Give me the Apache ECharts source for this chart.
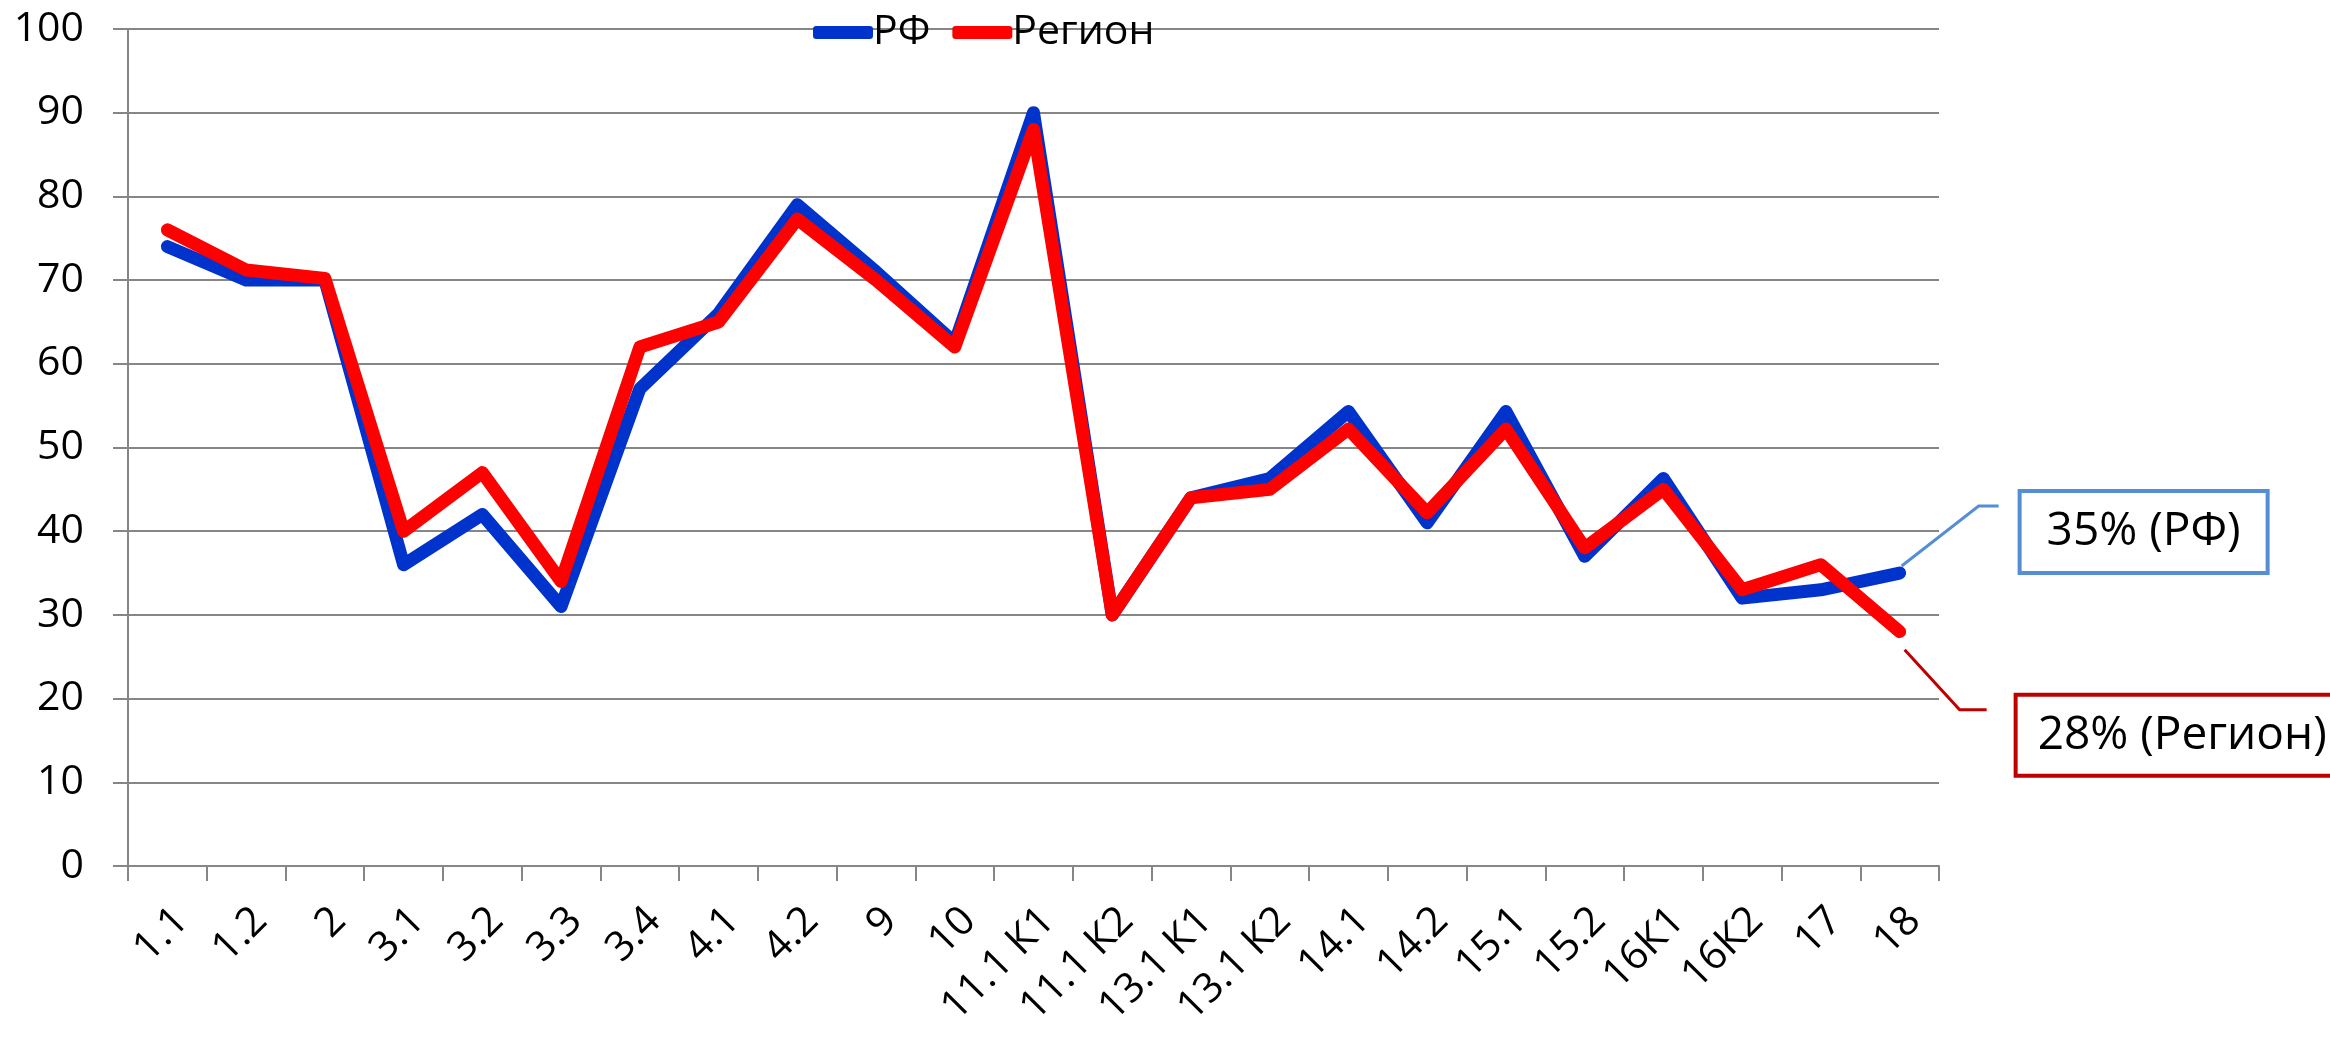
<!DOCTYPE html>
<html>
<head>
<meta charset="utf-8">
<script src="https://cdn.jsdelivr.net/npm/echarts@6/dist/echarts.min.js"></script>
<style>
  html, body { margin: 0; padding: 0; background: #fff; }
  #chart { width: 2330px; height: 1037px; }
</style>
</head>
<body>
<div id="chart"></div>
<script>
const categories = ['1.1', '1.2', '2', '3.1', '3.2', '3.3', '3.4', '4.1', '4.2', '9', '10',
  '11.1 К1', '11.1 К2', '13.1 К1', '13.1 К2', '14.1', '14.2', '15.1', '15.2', '16К1', '16К2', '17', '18'];
const rfValues = [74, 70, 70, 36, 42, 31, 57, 66, 79, 71, 62.5, 90, 30, 44, 46.3, 54.3, 41, 54.3, 37, 46.3, 32, 33, 35];
const regionValues = [76, 71.2, 70.2, 40, 47, 34, 62, 65, 77.3, 70, 62, 88, 30, 44, 45, 52.2, 42.2, 52.2, 38, 45, 33, 36, 28];

const FONT = 'Open Sans';
const GRID_GRAY = '#868686';

const chart = echarts.init(document.getElementById('chart'));

chart.setOption({
  animation: false,
  textStyle: { fontFamily: FONT },
  grid: { left: 128, right: 391, top: 29, bottom: 171, containLabel: false },
  legend: {
    top: 7,
    left: 808,
    icon: 'roundRect',
    itemWidth: 60,
    itemHeight: 13,
    itemGap: 22,
    textStyle: { fontSize: 41, color: '#000', fontFamily: FONT, padding: [0, 0, 0, -5] },
    data: ['РФ', 'Регион']
  },
  xAxis: {
    type: 'category',
    data: categories,
    boundaryGap: true,
    axisLine: { lineStyle: { color: GRID_GRAY, width: 2 } },
    axisTick: { show: true, length: 15, lineStyle: { color: GRID_GRAY, width: 2 } },
    axisLabel: {
      rotate: 45, interval: 0, fontSize: 41, color: '#000', margin: 34, fontFamily: FONT,
      align: 'right', verticalAlign: 'top'
    }
  },
  yAxis: {
    type: 'value',
    min: 0,
    max: 100,
    interval: 10,
    axisLine: { show: true, lineStyle: { color: GRID_GRAY, width: 2 } },
    axisTick: { show: true, length: 15, lineStyle: { color: GRID_GRAY, width: 2 } },
    axisLabel: { fontSize: 41, color: '#000', margin: 44, fontFamily: FONT },
    splitLine: { lineStyle: { color: GRID_GRAY, width: 2 } }
  },
  series: [
    {
      name: 'РФ',
      type: 'line',
      data: rfValues,
      symbol: 'none',
      color: '#0033CC',
      lineStyle: { color: '#0033CC', width: 13, cap: 'round', join: 'round' }
    },
    {
      name: 'Регион',
      type: 'line',
      data: regionValues,
      symbol: 'none',
      color: '#FF0000',
      lineStyle: { color: '#FF0000', width: 13, cap: 'round', join: 'round' }
    }
  ]
});

// callouts for the last points, positioned from the data through the axes
const last = categories.length - 1;
const pRf = chart.convertToPixel({ seriesIndex: 0 }, [last, rfValues[last]]);
const pReg = chart.convertToPixel({ seriesIndex: 1 }, [last, regionValues[last]]);

chart.setOption({
  graphic: [
    {
      type: 'polyline',
      shape: { points: [[pRf[0] + 2, pRf[1] - 7], [pRf[0] + 79, pRf[1] - 67], [pRf[0] + 99, pRf[1] - 67]] },
      style: { stroke: '#558ED5', lineWidth: 3, fill: null }
    },
    {
      type: 'rect',
      shape: { x: pRf[0] + 120, y: pRf[1] - 82, width: 248, height: 82 },
      style: { stroke: '#558ED5', lineWidth: 4, fill: '#fff' }
    },
    {
      type: 'text',
      x: pRf[0] + 244, y: pRf[1] - 41,
      style: { text: rfValues[last] + '% (РФ)', font: '46px "Open Sans"', fill: '#000', align: 'center', verticalAlign: 'middle' }
    },
    {
      type: 'polyline',
      shape: { points: [[pReg[0] + 5, pReg[1] + 18], [pReg[0] + 60, pReg[1] + 78], [pReg[0] + 87, pReg[1] + 78]] },
      style: { stroke: '#C00000', lineWidth: 3, fill: null }
    },
    {
      type: 'rect',
      shape: { x: pReg[0] + 116, y: pReg[1] + 63, width: 330, height: 81 },
      style: { stroke: '#C00000', lineWidth: 4, fill: '#fff' }
    },
    {
      type: 'text',
      x: pReg[0] + 138, y: pReg[1] + 104,
      style: { text: regionValues[last] + '% (Регион)', font: '46px "Open Sans"', fill: '#000', align: 'left', verticalAlign: 'middle' }
    }
  ]
});
</script>
</body>
</html>
